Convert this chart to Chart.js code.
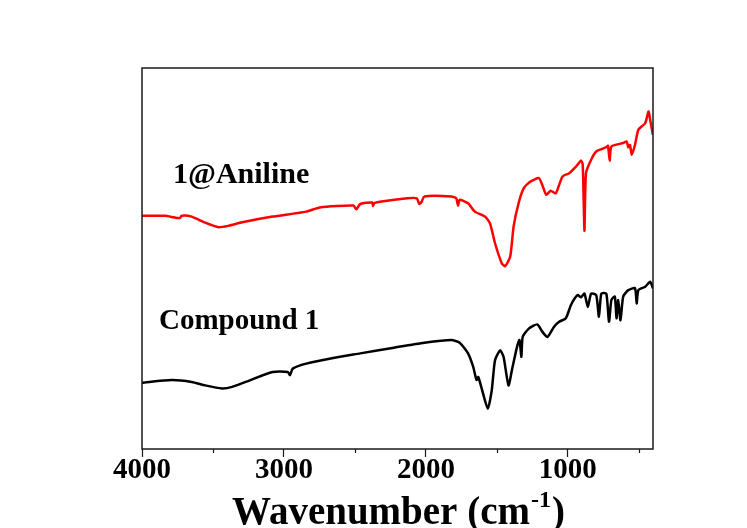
<!DOCTYPE html>
<html>
<head>
<meta charset="utf-8">
<script src="https://cdn.jsdelivr.net/npm/chart.js@4"></script>
<style>
  html, body { margin: 0; padding: 0; background: #fff; }
  #wrap { width: 747px; height: 528px; }
</style>
</head>
<body>
<div id="wrap"><canvas id="irChart" width="747" height="528"></canvas></div>
<script>
// IR spectra, wavenumber (cm-1) vs transmittance (arbitrary, offset)
const anilineWavenumber = [4000,3840,3733,3721,3650,3555,3460,3389,3294,3080,2843,2748,2510,2491,2462,2377,2373,2363,2130,2064,2047,2030,2011,1821,1786,1774,1762,1703,1655,1584,1548,1513,1465,1441,1406,1382,1347,1311,1263,1204,1180,1152,1121,1085,1038,990,943,907,895,883,872,836,800,729,717,705,693,610,586,574,562,550,527,503,455,432,420,401];
const anilineTransmittance = [61.2,61.2,60.6,61.2,61.0,59.4,58.2,58.6,59.5,61.0,62.3,63.4,63.9,62.9,64.3,64.7,63.8,64.6,65.8,65.8,64.3,64.9,66.3,66.3,65.8,63.9,65.4,64.5,62.3,61.0,59.2,54.0,48.7,48.0,50.5,58.4,64.5,68.4,70.2,71.1,69.3,66.7,67.8,67.1,71.5,72.4,74.1,75.7,74.6,57.3,72.4,75.9,78.1,79.2,79.6,75.7,79.4,80.3,80.7,79.2,79.8,77.2,79.8,83.8,85.5,88.6,86.4,82.5];

const compoundWavenumber = [4000,3792,3650,3555,3436,3365,3270,3080,2973,2957,2938,2843,2653,2462,2225,2011,1821,1762,1703,1667,1643,1631,1607,1564,1536,1513,1477,1453,1418,1394,1358,1341,1327,1318,1275,1215,1180,1144,1097,1061,1014,978,931,907,883,859,836,800,781,764,729,710,693,669,657,645,629,610,574,527,515,503,455,420,401];
const compoundTransmittance = [17.4,18.1,17.6,16.7,15.9,16.3,17.6,20.2,20.2,19.4,21.1,22.4,23.9,25.1,26.6,27.9,28.6,27.9,25.1,21.6,18.1,18.9,15.9,10.6,15.4,23.3,25.9,24.2,16.7,20.7,26.8,28.6,24.2,29.4,31.6,32.7,30.8,29.4,32.1,33.4,34.3,37.8,40.4,39.8,40.8,37.3,40.8,40.4,34.7,40.8,40.8,33.4,39.1,40.0,34.3,39.1,33.8,40.0,41.7,42.2,38.2,41.7,42.6,43.9,42.2];

const seriesNames = ['1@Aniline', 'Compound 1'];
const majorTicks = [4000, 3000, 2000, 1000];
const minorTicks = [3500, 2500, 1500, 500];

const serif = '"Liberation Serif", "Times New Roman", serif';

function toPoints(xs, ys) {
  return xs.map((x, i) => ({ x: x, y: ys[i] }));
}

// frame, minor ticks, curve labels and the axis title with superscript
const decorations = {
  id: 'decorations',
  afterDraw(chart) {
    const { ctx, chartArea: a, scales } = chart;
    ctx.save();
    ctx.strokeStyle = '#1a1a1a';
    ctx.lineWidth = 1.5;
    ctx.strokeRect(a.left, a.top, a.right - a.left, a.bottom - a.top);

    ctx.lineWidth = 1.2;
    minorTicks.forEach(v => {
      const px = Math.round(scales.x.getPixelForValue(v)) + 0.5;
      ctx.beginPath();
      ctx.moveTo(px, a.bottom);
      ctx.lineTo(px, a.bottom + 4);
      ctx.stroke();
    });

    ctx.fillStyle = '#000';
    ctx.textBaseline = 'alphabetic';
    ctx.textAlign = 'left';
    ctx.font = 'bold 30px ' + serif;
    ctx.fillText(seriesNames[0], 173, 183);
    ctx.font = 'bold 29px ' + serif;
    ctx.fillText(seriesNames[1], 159, 329);

    const main = 'Wavenumber (cm';
    const sup = '-1';
    const close = ')';
    ctx.font = 'bold 39px ' + serif;
    const w1 = ctx.measureText(main).width;
    const w3 = ctx.measureText(close).width;
    ctx.font = 'bold 24px ' + serif;
    const w2 = ctx.measureText(sup).width;
    const x0 = (a.left + a.right) / 2 - (w1 + w2 + w3) / 2;
    const base = 524;
    ctx.font = 'bold 39px ' + serif;
    ctx.fillText(main, x0, base);
    ctx.font = 'bold 24px ' + serif;
    ctx.fillText(sup, x0 + w1 + 1, base - 17);
    ctx.font = 'bold 39px ' + serif;
    ctx.fillText(close, x0 + w1 + w2 + 2, base);
    ctx.restore();
  }
};

new Chart(document.getElementById('irChart'), {
  type: 'line',
  data: {
    datasets: [
      {
        label: seriesNames[0],
        data: toPoints(anilineWavenumber, anilineTransmittance),
        borderColor: '#ff0000',
        borderWidth: 2.5,
        pointRadius: 0,
        tension: 0.2
      },
      {
        label: seriesNames[1],
        data: toPoints(compoundWavenumber, compoundTransmittance),
        borderColor: '#000000',
        borderWidth: 2.5,
        pointRadius: 0,
        tension: 0.2
      }
    ]
  },
  options: {
    responsive: false,
    animation: false,
    layout: { padding: { left: 142, right: 94, top: 68, bottom: 0 } },
    plugins: {
      legend: { display: false },
      tooltip: { enabled: false }
    },
    scales: {
      x: {
        type: 'linear',
        reverse: true,
        min: 400,
        max: 4000,
        afterBuildTicks: (scale) => { scale.ticks = majorTicks.map(v => ({ value: v })); },
        afterFit: (scale) => { scale.height = 79; },
        border: { display: false },
        grid: {
          drawOnChartArea: false,
          drawTicks: true,
          tickLength: 8,
          color: '#1a1a1a',
          tickWidth: 1.2
        },
        ticks: {
          color: '#000',
          padding: -4,
          maxRotation: 0,
          font: { family: serif, size: 29, weight: 'bold' },
          callback: (v) => String(v)
        }
      },
      y: {
        display: false,
        min: 0,
        max: 100
      }
    }
  },
  plugins: [decorations]
});
</script>
</body>
</html>
